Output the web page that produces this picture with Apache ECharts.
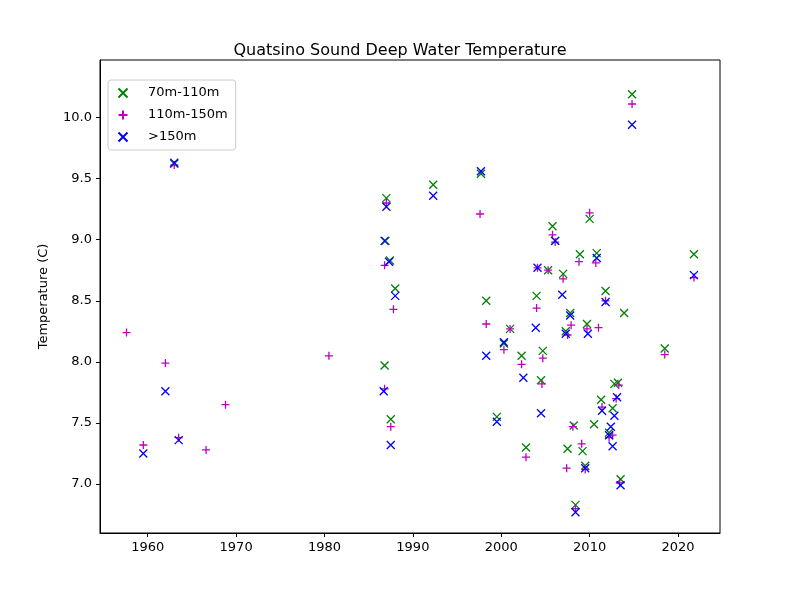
<!DOCTYPE html>
<html>
<head>
<meta charset="utf-8">
<script src="https://cdn.jsdelivr.net/npm/echarts@6/dist/echarts.min.js"></script>
<style>html,body{margin:0;padding:0;background:#fff}#chart{width:800px;height:600px}</style>
</head>
<body>
<div id="chart"></div>
<script>
// [year, temperature]
const shallow = [[1963,9.62],[1987.0,9.34],[1986.8,7.97],[1987.5,7.53],[1988,8.60],[1986.9,8.99],[1987.4,8.83],[1992.3,9.45],[1997.7,9.54],[1998.3,8.50],[1999.5,7.55],[2000.3,8.15],[2001,8.27],[2002.3,8.05],[2002.8,7.30],[2004,8.54],[2004.5,7.85],[2004.7,8.09],[2005.3,8.75],[2005.8,9.11],[2006.1,8.99],[2007,8.72],[2007.3,8.25],[2007.5,7.29],[2007.8,8.40],[2008.2,7.48],[2008.4,6.83],[2008.9,8.88],[2009.2,7.27],[2009.5,7.15],[2009.7,8.31],[2010,9.17],[2010.5,7.49],[2010.8,8.89],[2011.3,7.69],[2011.8,8.58],[2012.2,7.42],[2012.6,7.62],[2012.8,7.82],[2013.2,7.83],[2013.5,7.04],[2013.9,8.40],[2014.8,10.19],[2018.5,8.11],[2021.8,8.88]];
const middle = [[1957.6,8.24],[1959.5,7.32],[1962,7.99],[1963,9.61],[1963.5,7.38],[1966.6,7.28],[1968.8,7.65],[1980.5,8.05],[1986.8,7.78],[1986.8,8.79],[1987,9.30],[1987.5,7.47],[1987.8,8.43],[1997.6,9.21],[1998.3,8.31],[2000.3,8.10],[2001,8.27],[2002.3,7.98],[2002.8,7.22],[2004,8.44],[2004.1,8.77],[2004.6,7.82],[2004.7,8.03],[2005.3,8.75],[2005.8,9.04],[2006.1,8.98],[2007,8.68],[2007.4,7.13],[2007.5,8.22],[2007.9,8.30],[2008.1,7.47],[2008.4,6.80],[2008.8,8.82],[2009.1,7.33],[2009.5,7.12],[2009.7,8.27],[2010,9.22],[2010.7,8.81],[2011,8.28],[2011.4,7.63],[2011.8,8.50],[2012.2,7.38],[2012.6,7.40],[2013,7.70],[2013.3,7.81],[2013.4,7.01],[2014.8,10.11],[2018.5,8.06],[2021.8,8.69]];
const deep = [[1959.5,7.25],[1962,7.76],[1963,9.63],[1963.5,7.36],[1986.7,7.76],[1986.8,8.99],[1987,9.27],[1987.3,8.82],[1987.5,7.32],[1988,8.54],[1992.3,9.36],[1997.7,9.56],[1998.3,8.05],[1999.5,7.51],[2000.3,8.16],[2002.5,7.87],[2003.9,8.28],[2004.1,8.77],[2004.5,7.58],[2006.1,8.99],[2006.9,8.55],[2007.3,8.23],[2007.8,8.38],[2008.4,6.77],[2009.5,7.13],[2009.8,8.23],[2010.8,8.85],[2011.4,7.60],[2011.8,8.49],[2012.2,7.40],[2012.4,7.47],[2012.6,7.31],[2012.8,7.56],[2013.1,7.71],[2013.5,6.99],[2014.8,9.94],[2021.8,8.71]];
const xTicks = [1960, 1970, 1980, 1990, 2000, 2010, 2020];
const yTicks = [7.0, 7.5, 8.0, 8.5, 9.0, 9.5, 10.0];

const X_MARK = 'path://M0,0L10,10M10,0L0,10';
const PLUS_MARK = 'path://M5,0L5,10M0,5L10,5';

function series(name, data, mark, color) {
  return {
    name: name, type: 'scatter', data: data, symbol: mark, symbolSize: 8,
    itemStyle: { color: 'none', borderColor: color, borderWidth: 1.3, opacity: 1 }
  };
}

const chart = echarts.init(document.getElementById('chart'));
const axisText = { color: '#000', fontSize: 13, fontFamily: 'DejaVu Sans' };
chart.setOption({
  animation: false,
  title: { text: 'Quatsino Sound Deep Water Temperature', left: 'center', top: 38,
    textStyle: { fontSize: 16, fontWeight: 'normal', color: '#000', fontFamily: 'DejaVu Sans' } },
  legend: {
    left: 108, top: 80, orient: 'vertical', itemGap: 8,
    borderColor: '#ccc', borderWidth: 1, borderRadius: 3, padding: [6, 8],
    textStyle: { fontSize: 13, fontFamily: 'DejaVu Sans', color: '#000', padding: [0, 0, 0, 8] },
    itemWidth: 24, itemHeight: 9
  },
  grid: { left: 100, right: 80, top: 60, bottom: 67 },
  xAxis: {
    type: 'value', min: 1954.6, max: 2024.75, splitLine: { show: false },
    axisLine: { onZero: false, lineStyle: { color: '#000' } },
    axisTick: { customValues: xTicks, length: 4, lineStyle: { color: '#000' } },
    axisLabel: Object.assign({ customValues: xTicks, formatter: v => String(v) }, axisText)
  },
  yAxis: {
    type: 'value', min: 6.6, max: 10.47, splitLine: { show: false },
    name: 'Temperature (C)', nameLocation: 'middle', nameGap: 50,
    nameTextStyle: axisText,
    axisLine: { show: true, onZero: false, lineStyle: { color: '#000' } },
    axisTick: { show: true, customValues: yTicks, length: 4, lineStyle: { color: '#000' } },
    axisLabel: Object.assign({ customValues: yTicks, formatter: v => v.toFixed(1) }, axisText)
  },
  series: [
    series('70m-110m', shallow, X_MARK, '#008000'),
    series('110m-150m', middle, PLUS_MARK, '#bf00bf'),
    series('>150m', deep, X_MARK, '#0000ff')
  ]
});
// box the plot area on all four sides like the reference
chart.setOption({
  graphic: [{ type: 'rect', shape: { x: 100, y: 60, width: 620, height: 473 },
    style: { fill: 'none', stroke: '#000', lineWidth: 1 }, silent: true, z: -1 }]
});
</script>
</body>
</html>
